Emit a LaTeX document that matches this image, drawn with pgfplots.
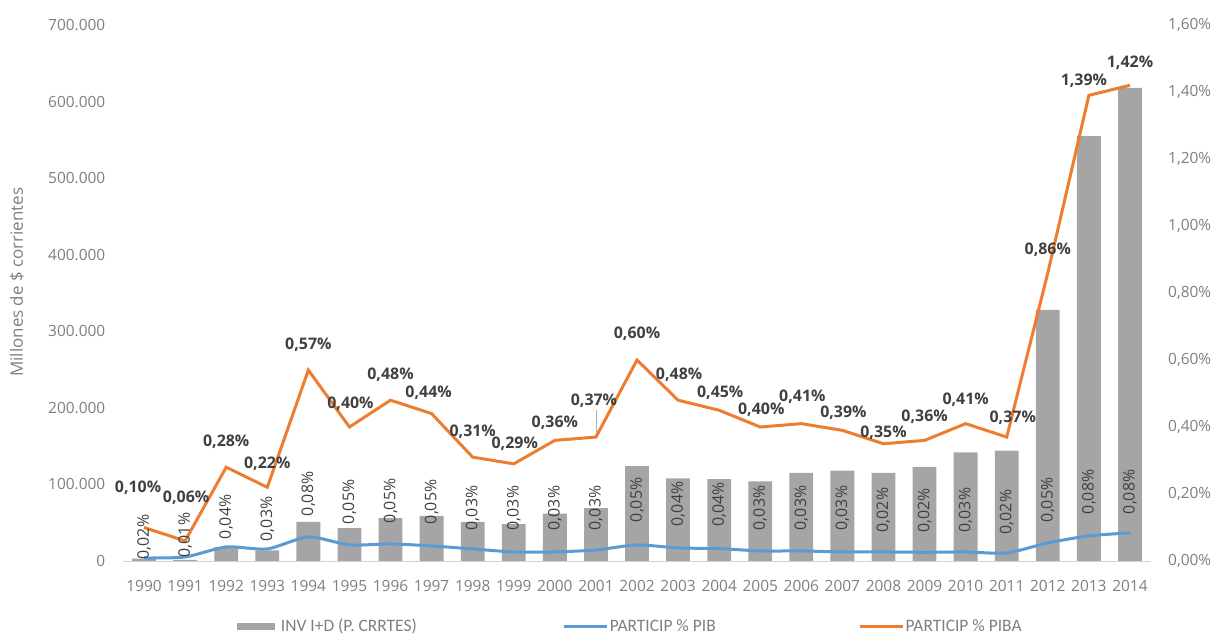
\documentclass[border=0pt]{standalone}
\usepackage{fontspec}
\setmainfont{Open Sans}
\newfontfamily\legfont{Carlito}
\usepackage{pgfplots}
\usepackage{pgfplotstable}
\pgfplotsset{compat=1.18}

\definecolor{barGray}{HTML}{A5A5A5}
\definecolor{pibBlue}{HTML}{5B9BD5}
\definecolor{pibaOrange}{HTML}{ED7D31}
\definecolor{tickGray}{HTML}{7F7F7F}
\definecolor{lblGray}{HTML}{404040}

% year, INV I+D (millones), PIB %, label PIB, PIBA %, label shifts (bp)
\pgfplotstableread{
year inv    pib   pibl piba odx ody bdy
1990 3000   0.009 0.02 0.10 -6  40  21
1991 1500   0.012 0.01 0.06 1   43  22
1992 18000  0.042 0.04 0.28 0   25  30
1993 14000  0.036 0.03 0.22 0   24  30
1994 51000  0.072 0.08 0.57 0   25  43
1995 43000  0.048 0.05 0.40 1   23  43
1996 56000  0.051 0.05 0.48 0   25  43
1997 59000  0.045 0.05 0.44 -3  21  44
1998 51000  0.036 0.03 0.31 0   25  41
1999 48000  0.027 0.03 0.29 1   20  44
2000 62000  0.027 0.03 0.36 0   18  44
2001 69000  0.033 0.03 0.37 -2  36  42
2002 124000 0.048 0.05 0.60 0   26  45
2003 108000 0.039 0.04 0.48 1   25  44
2004 107000 0.037 0.04 0.45 1   18  44
2005 104000 0.030 0.03 0.40 1   17  43
2006 115000 0.030 0.03 0.41 1   27  43
2007 118000 0.027 0.03 0.39 1   18  44
2008 115000 0.027 0.02 0.35 0   11  42
2009 123000 0.026 0.02 0.36 0   24  42
2010 142000 0.027 0.03 0.41 0   24  42
2011 144000 0.024 0.02 0.37 6   19  41
2012 328000 0.054 0.05 0.86 0   23  43
2013 555000 0.075 0.08 1.39 -5  15  44
2014 618000 0.084 0.08 1.42 0   23  41
}\datos

\pgfplotsset{
  base/.style={
    at={(0,0)}, anchor=south west,
    scale only axis, width=1027bp, height=536bp,
    xmin=1989.5, xmax=2014.5,
    major tick length=0pt,
    /pgf/number format/assume math mode=true,
    tick label style={font=\fontsize{15.5}{18}\selectfont, text=tickGray, inner sep=0pt},
  },
  pct/.style={nodes near coords={\pgfmathprintnumber[fixed,fixed zerofill,precision=2,use comma]{\pgfplotspointmeta}\%}},
}

\begin{document}
\begin{tikzpicture}
\useasboundingbox (-123.5bp,-74bp) rectangle (1091.5bp,561bp);

% left axis: bars
\begin{axis}[base,
  ymin=0, ymax=700000,
  ytick={0,100000,200000,300000,400000,500000,600000,700000},
  scaled y ticks=false,
  yticklabel style={/pgf/number format/fixed, /pgf/number format/1000 sep={.}, xshift=-18bp},
  xtick=data,
  xticklabel style={/pgf/number format/1000 sep={}, yshift=-19bp},
  axis x line*=bottom,
  axis y line*=left,
  x axis line style={draw=gray!35, line width=1bp, -},
  y axis line style={draw=none},
  ylabel={Millones de \$ corrientes},
  every axis y label/.style={at={(axis description cs:-0.1037,0.52)}, rotate=90, anchor=center,
    font=\fontsize{17}{20}\selectfont, text=tickGray},
]
\addplot[ybar, bar width=0.58, fill=barGray, draw=none] table[x=year,y=inv]{\datos};
\end{axis}

% right axis: percentages
\begin{axis}[base,
  ymin=0, ymax=1.6,
  ytick={0,0.2,0.4,0.6,0.8,1.0,1.2,1.4,1.6},
  yticklabel={\pgfmathprintnumber[fixed,fixed zerofill,precision=2,use comma]{\tick}\%},
  yticklabel style={xshift=17.5bp},
  axis y line*=right, y axis line style={draw=none},
  hide x axis,
  legend columns=3,
  legend style={at={(axis description cs:0.1105,-0.1213)}, anchor=west,
    draw=none, fill=none, inner sep=0pt, outer sep=0pt,
    font=\legfont\fontsize{17.5}{20}\selectfont, text=tickGray,
    nodes={inner sep=0pt},
    /tikz/column 1/.style={column sep=6bp},
    /tikz/column 2/.style={column sep=146bp},
    /tikz/column 3/.style={column sep=1bp},
    /tikz/column 4/.style={column sep=143bp},
    /tikz/column 5/.style={column sep=1bp}},
]
\addlegendimage{fill=barGray, draw=none, legend image code/.code={\fill[barGray] (0bp,-3.5bp) rectangle (38bp,3.5bp);}}
\addlegendentry{INV I+D (P. CRRTES)}

\addplot[pibBlue, line width=3bp, smooth, tension=0.4,
  point meta=explicit, pct,
  visualization depends on={\thisrow{bdy} \as \bdy},
  every node near coord/.append style={anchor=center, yshift=\bdy bp, rotate=90,
    font=\fontsize{16}{19}\selectfont, text=lblGray, inner sep=0pt},
  legend image code/.code={\draw[pibBlue, line width=3bp] (0bp,0bp) -- (43bp,0bp);}]
  table[x=year,y=pib,meta=pibl]{\datos};
\addlegendentry{PARTICIP \% PIB}

\draw[gray!60, line width=0.6bp] (axis cs:2001,0.37) -- ++(0bp,27bp);

\addplot[pibaOrange, line width=3bp,
  point meta=explicit, pct,
  visualization depends on={\thisrow{odx} \as \odx},
  visualization depends on={\thisrow{ody} \as \ody},
  every node near coord/.append style={anchor=center, xshift=\odx bp, yshift=\ody bp,
    font=\bfseries\fontsize{16}{19}\selectfont, text=lblGray, inner sep=0pt},
  legend image code/.code={\draw[pibaOrange, line width=3bp] (0bp,0bp) -- (43bp,0bp);}]
  table[x=year,y=piba,meta=piba]{\datos};
\addlegendentry{PARTICIP \% PIBA}
\end{axis}
\end{tikzpicture}
\end{document}
